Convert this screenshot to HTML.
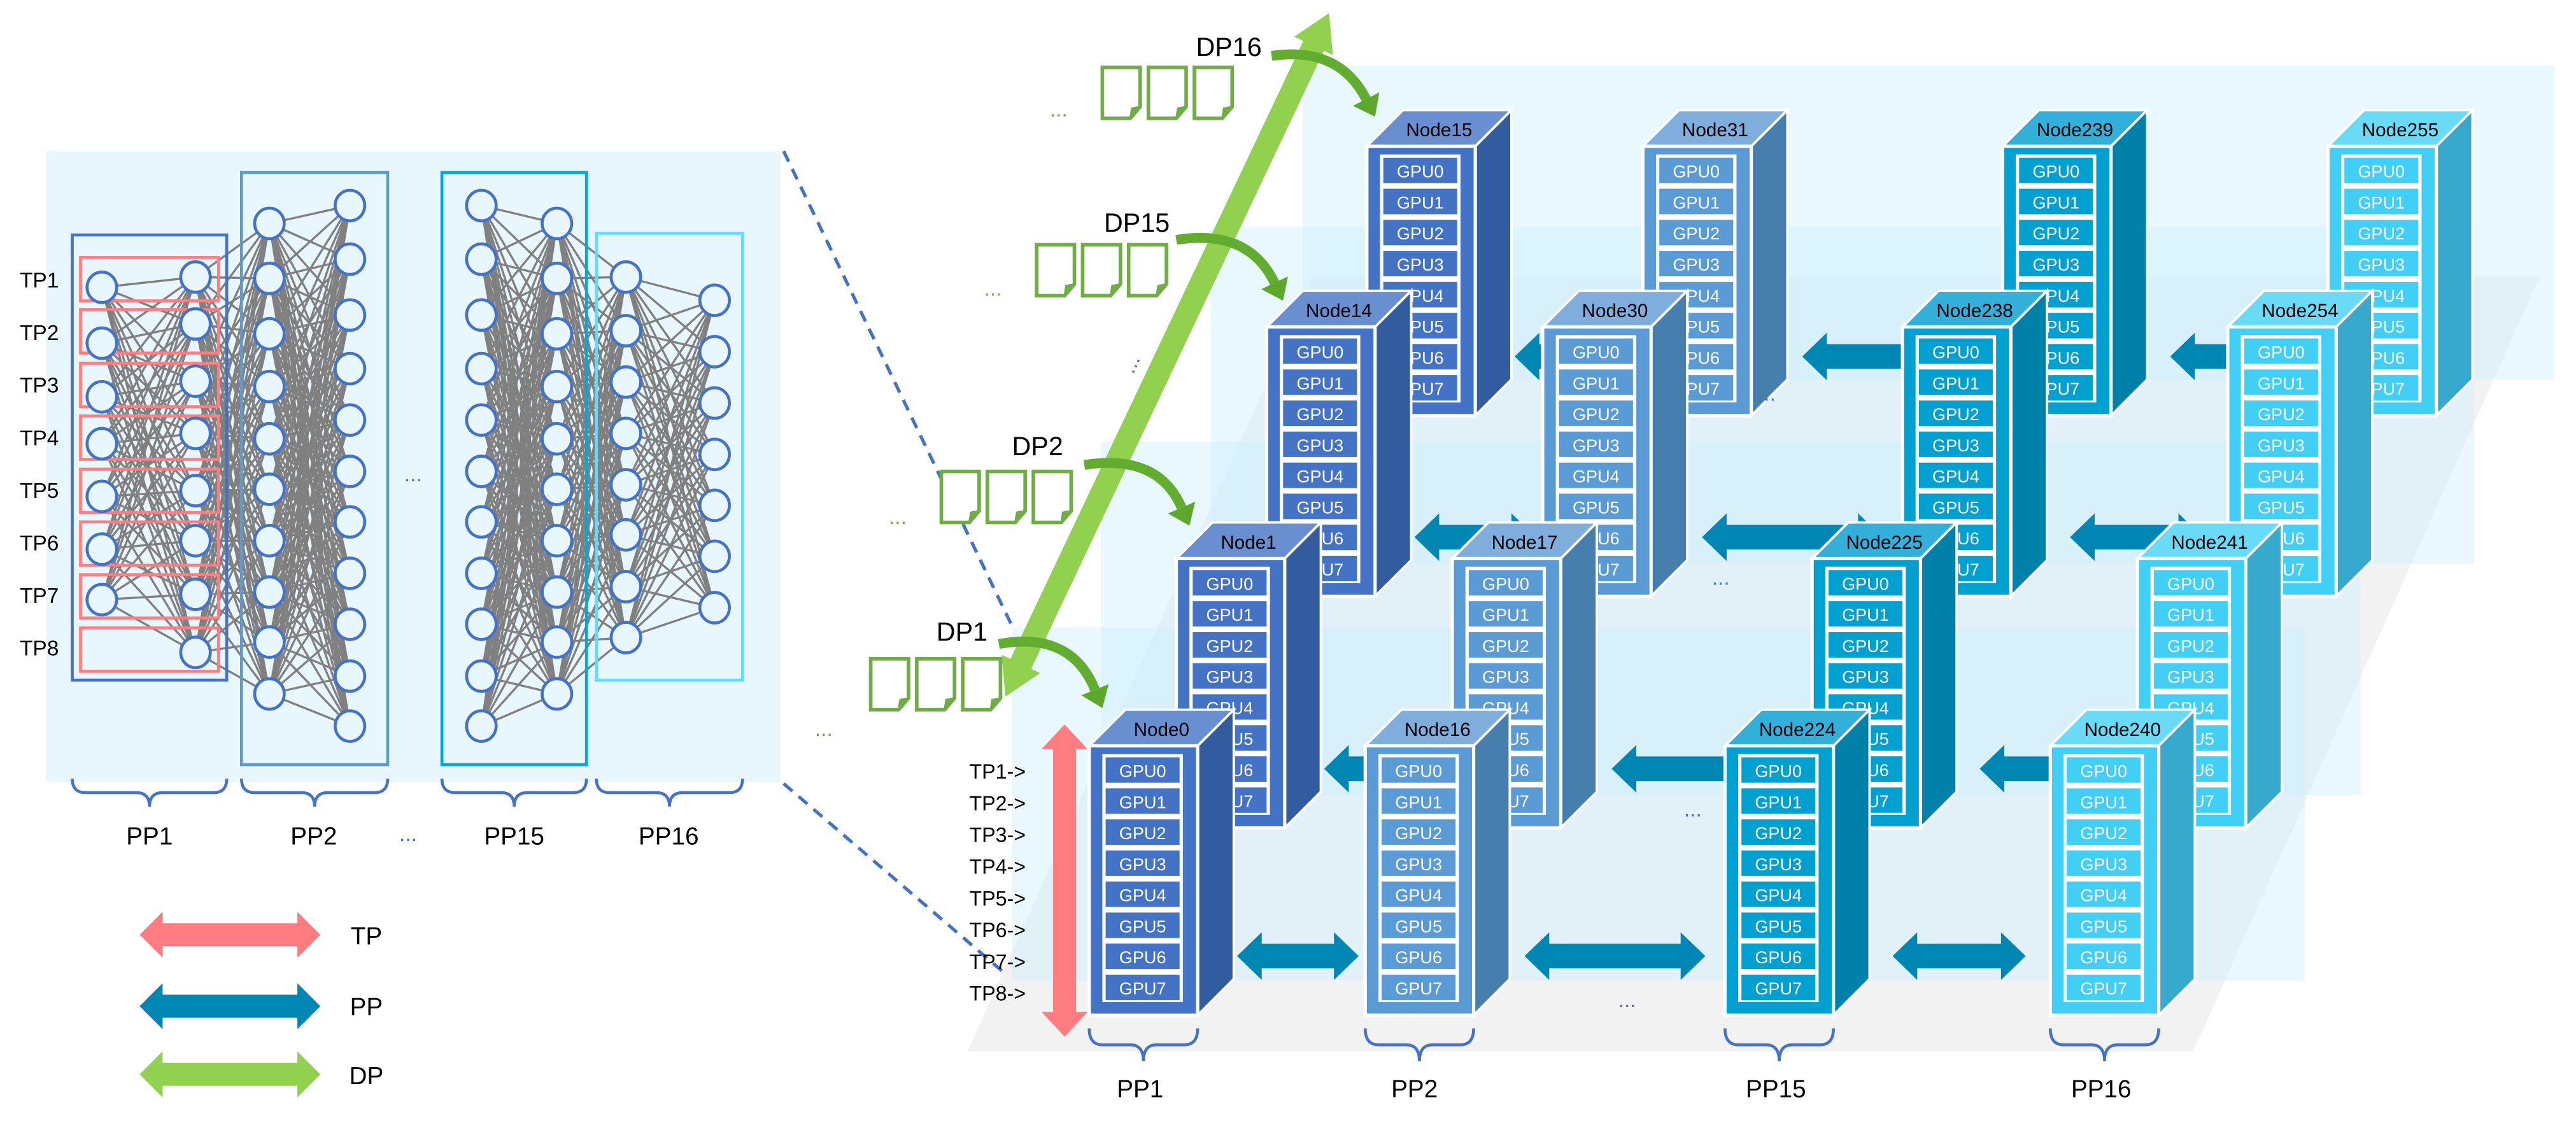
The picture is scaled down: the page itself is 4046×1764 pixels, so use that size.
<!DOCTYPE html>
<html><head><meta charset="utf-8"><style>
html,body{margin:0;padding:0;background:#fff;}
svg{display:block;}
text{font-family:"Liberation Sans",sans-serif;}
.g{font-size:10.5px;fill:#fff;text-anchor:middle;}
.nl{font-size:11.5px;fill:#000;text-anchor:middle;}
.tp{font-size:12.5px;fill:#000;}
.lb{font-size:15px;fill:#000;text-anchor:middle;}
.dp{font-size:16px;fill:#000;}
</style></head><body>
<svg id="s" width="4046" height="1764" viewBox="0 0 1568 683.6" xmlns="http://www.w3.org/2000/svg">
<defs>
<g id="cells">
<rect x="10" y="7" width="45" height="15.5" fill="currentColor"/>
<rect x="10" y="25.9" width="45" height="15.5" fill="currentColor"/>
<rect x="10" y="44.8" width="45" height="15.5" fill="currentColor"/>
<rect x="10" y="63.7" width="45" height="15.5" fill="currentColor"/>
<rect x="10" y="82.6" width="45" height="15.5" fill="currentColor"/>
<rect x="10" y="101.5" width="45" height="15.5" fill="currentColor"/>
<rect x="10" y="120.4" width="45" height="15.5" fill="currentColor"/>
<rect x="10" y="139.3" width="45" height="15.5" fill="currentColor"/>
</g>
<g id="n0"><polygon points="0,0 22,-22 88,-22 66,0" fill="#6A8FD0" stroke="#fff" stroke-width="1.5"/><polygon points="66,0 88,-22 88,142 66,164" fill="#335C9E" stroke="#fff" stroke-width="1.5"/><rect width="66" height="164" fill="#4472C4" stroke="#fff" stroke-width="2"/><rect x="8" y="5" width="49" height="151" fill="#fff"/><use href="#cells" style="color:#4472C4"/></g>
<g id="n1"><polygon points="0,0 22,-22 88,-22 66,0" fill="#7FAEDD" stroke="#fff" stroke-width="1.5"/><polygon points="66,0 88,-22 88,142 66,164" fill="#467EAE" stroke="#fff" stroke-width="1.5"/><rect width="66" height="164" fill="#5B9BD5" stroke="#fff" stroke-width="2"/><rect x="8" y="5" width="49" height="151" fill="#fff"/><use href="#cells" style="color:#5B9BD5"/></g>
<g id="n2"><polygon points="0,0 22,-22 88,-22 66,0" fill="#33B0DA" stroke="#fff" stroke-width="1.5"/><polygon points="66,0 88,-22 88,142 66,164" fill="#0081AA" stroke="#fff" stroke-width="1.5"/><rect width="66" height="164" fill="#00A0D0" stroke="#fff" stroke-width="2"/><rect x="8" y="5" width="49" height="151" fill="#fff"/><use href="#cells" style="color:#00A0D0"/></g>
<g id="n3"><polygon points="0,0 22,-22 88,-22 66,0" fill="#6ADBF7" stroke="#fff" stroke-width="1.5"/><polygon points="66,0 88,-22 88,142 66,164" fill="#36A9CC" stroke="#fff" stroke-width="1.5"/><rect width="66" height="164" fill="#42CFF5" stroke="#fff" stroke-width="2"/><rect x="8" y="5" width="49" height="151" fill="#fff"/><use href="#cells" style="color:#42CFF5"/></g>
<g id="doc"><path d="M0,0 H23 V24 L17,31 H0 Z" fill="#fff" stroke="#70AD47" stroke-width="2.2"/><path d="M17,31 L18,25 L23,24" fill="#70AD47" stroke="#70AD47" stroke-width="1.2"/></g>
</defs>

<!-- left panel -->
<rect x="28" y="92" width="447" height="384" fill="#E8F6FD"/>
<g id="nnlines" stroke="#808080" stroke-width="1.3"></g>
<rect x="44" y="143" width="94" height="271" fill="none" stroke="#4472C4" stroke-width="1.8"/>
<g fill="none" stroke="#FF7C80" stroke-width="1.8">
<rect x="49" y="156.7" width="84" height="26.4"/><rect x="49" y="188.5" width="84" height="26.4"/>
<rect x="49" y="221.1" width="84" height="26.4"/><rect x="49" y="253.2" width="84" height="26.4"/>
<rect x="49" y="285.6" width="84" height="26.4"/><rect x="49" y="317.7" width="84" height="26.4"/>
<rect x="49" y="349.8" width="84" height="26.4"/><rect x="49" y="382.2" width="84" height="26.4"/>
</g>
<rect x="147" y="105" width="89" height="360.5" fill="none" stroke="#5B9BD5" stroke-width="1.8"/>
<rect x="269" y="105" width="88" height="360.5" fill="none" stroke="#00A9DB" stroke-width="1.8"/>
<rect x="363" y="142" width="89" height="272" fill="none" stroke="#66D9FF" stroke-width="1.8"/>
<g id="nncirc" fill="#E8F6FD" stroke="#4472C4" stroke-width="1.8"></g>
<text x="246" y="293" fill="#4472C4" style="font-size:13px">...</text>
<g class="tp" style="font-size:13px">
<text x="12" y="175">TP1</text><text x="12" y="207">TP2</text><text x="12" y="239">TP3</text><text x="12" y="271">TP4</text>
<text x="12" y="303">TP5</text><text x="12" y="335">TP6</text><text x="12" y="367">TP7</text><text x="12" y="399">TP8</text>
</g>
<g id="lbraces" fill="none" stroke="#4472C4" stroke-width="1.8"></g>
<text class="lb" x="91" y="514">PP1</text>
<text class="lb" x="191" y="514">PP2</text>
<text x="243" y="512" fill="#4472C4" style="font-size:13px">...</text>
<text class="lb" x="313" y="514">PP15</text>
<text class="lb" x="407" y="514">PP16</text>

<!-- legend -->
<g id="legend"></g>
<text class="lb" x="223" y="575">TP</text>
<text class="lb" x="223" y="618">PP</text>
<text class="lb" x="223" y="660">DP</text>

<!-- dashed -->
<line x1="477" y1="92" x2="616" y2="381" stroke="#4472C4" stroke-width="2" stroke-dasharray="7,5"/>
<line x1="477" y1="477" x2="618" y2="598" stroke="#4472C4" stroke-width="2" stroke-dasharray="7,5"/>

<!-- right diagram: floor + planes -->
<polygon points="589,640 1335,640 1546,168 800,168" fill="#F2F2F2"/>
<rect x="793" y="40" width="762" height="191" fill="#CDEFFC" opacity="0.45"/>
<rect x="737" y="138" width="769" height="205" fill="#CDEFFC" opacity="0.45"/>
<rect x="670" y="269" width="767" height="215" fill="#CDEFFC" opacity="0.45"/>
<rect x="616" y="382" width="787" height="215" fill="#CDEFFC" opacity="0.45"/>

<g id="r3">
<g id="a3" fill="#0086B3"></g>
<g transform="translate(832,89)"><use href="#n0"/><text class="nl" x="44" y="-6">Node15</text><text class="g" x="32.5" y="19">GPU0</text><text class="g" x="32.5" y="37.9">GPU1</text><text class="g" x="32.5" y="56.8">GPU2</text><text class="g" x="32.5" y="75.7">GPU3</text><text class="g" x="32.5" y="94.6">GPU4</text><text class="g" x="32.5" y="113.5">GPU5</text><text class="g" x="32.5" y="132.4">GPU6</text><text class="g" x="32.5" y="151.3">GPU7</text></g>
<g transform="translate(1000,89)"><use href="#n1"/><text class="nl" x="44" y="-6">Node31</text><text class="g" x="32.5" y="19">GPU0</text><text class="g" x="32.5" y="37.9">GPU1</text><text class="g" x="32.5" y="56.8">GPU2</text><text class="g" x="32.5" y="75.7">GPU3</text><text class="g" x="32.5" y="94.6">GPU4</text><text class="g" x="32.5" y="113.5">GPU5</text><text class="g" x="32.5" y="132.4">GPU6</text><text class="g" x="32.5" y="151.3">GPU7</text></g>
<g transform="translate(1219,89)"><use href="#n2"/><text class="nl" x="44" y="-6">Node239</text><text class="g" x="32.5" y="19">GPU0</text><text class="g" x="32.5" y="37.9">GPU1</text><text class="g" x="32.5" y="56.8">GPU2</text><text class="g" x="32.5" y="75.7">GPU3</text><text class="g" x="32.5" y="94.6">GPU4</text><text class="g" x="32.5" y="113.5">GPU5</text><text class="g" x="32.5" y="132.4">GPU6</text><text class="g" x="32.5" y="151.3">GPU7</text></g>
<g transform="translate(1417,89)"><use href="#n3"/><text class="nl" x="44" y="-6">Node255</text><text class="g" x="32.5" y="19">GPU0</text><text class="g" x="32.5" y="37.9">GPU1</text><text class="g" x="32.5" y="56.8">GPU2</text><text class="g" x="32.5" y="75.7">GPU3</text><text class="g" x="32.5" y="94.6">GPU4</text><text class="g" x="32.5" y="113.5">GPU5</text><text class="g" x="32.5" y="132.4">GPU6</text><text class="g" x="32.5" y="151.3">GPU7</text></g>
<text x="1070" y="244" fill="#4472C4" style="font-size:13px">...</text>
</g>

<g id="r2">
<g id="a2" fill="#0086B3"></g>
<g transform="translate(771,199)"><use href="#n0"/><text class="nl" x="44" y="-6">Node14</text><text class="g" x="32.5" y="19">GPU0</text><text class="g" x="32.5" y="37.9">GPU1</text><text class="g" x="32.5" y="56.8">GPU2</text><text class="g" x="32.5" y="75.7">GPU3</text><text class="g" x="32.5" y="94.6">GPU4</text><text class="g" x="32.5" y="113.5">GPU5</text><text class="g" x="32.5" y="132.4">GPU6</text><text class="g" x="32.5" y="151.3">GPU7</text></g>
<g transform="translate(939,199)"><use href="#n1"/><text class="nl" x="44" y="-6">Node30</text><text class="g" x="32.5" y="19">GPU0</text><text class="g" x="32.5" y="37.9">GPU1</text><text class="g" x="32.5" y="56.8">GPU2</text><text class="g" x="32.5" y="75.7">GPU3</text><text class="g" x="32.5" y="94.6">GPU4</text><text class="g" x="32.5" y="113.5">GPU5</text><text class="g" x="32.5" y="132.4">GPU6</text><text class="g" x="32.5" y="151.3">GPU7</text></g>
<g transform="translate(1158,199)"><use href="#n2"/><text class="nl" x="44" y="-6">Node238</text><text class="g" x="32.5" y="19">GPU0</text><text class="g" x="32.5" y="37.9">GPU1</text><text class="g" x="32.5" y="56.8">GPU2</text><text class="g" x="32.5" y="75.7">GPU3</text><text class="g" x="32.5" y="94.6">GPU4</text><text class="g" x="32.5" y="113.5">GPU5</text><text class="g" x="32.5" y="132.4">GPU6</text><text class="g" x="32.5" y="151.3">GPU7</text></g>
<g transform="translate(1356,199)"><use href="#n3"/><text class="nl" x="44" y="-6">Node254</text><text class="g" x="32.5" y="19">GPU0</text><text class="g" x="32.5" y="37.9">GPU1</text><text class="g" x="32.5" y="56.8">GPU2</text><text class="g" x="32.5" y="75.7">GPU3</text><text class="g" x="32.5" y="94.6">GPU4</text><text class="g" x="32.5" y="113.5">GPU5</text><text class="g" x="32.5" y="132.4">GPU6</text><text class="g" x="32.5" y="151.3">GPU7</text></g>
<text x="1042" y="356" fill="#4472C4" style="font-size:13px">...</text>
</g>

<g id="r1">
<g id="a1" fill="#0086B3"></g>
<g transform="translate(716,340)"><use href="#n0"/><text class="nl" x="44" y="-6">Node1</text><text class="g" x="32.5" y="19">GPU0</text><text class="g" x="32.5" y="37.9">GPU1</text><text class="g" x="32.5" y="56.8">GPU2</text><text class="g" x="32.5" y="75.7">GPU3</text><text class="g" x="32.5" y="94.6">GPU4</text><text class="g" x="32.5" y="113.5">GPU5</text><text class="g" x="32.5" y="132.4">GPU6</text><text class="g" x="32.5" y="151.3">GPU7</text></g>
<g transform="translate(884,340)"><use href="#n1"/><text class="nl" x="44" y="-6">Node17</text><text class="g" x="32.5" y="19">GPU0</text><text class="g" x="32.5" y="37.9">GPU1</text><text class="g" x="32.5" y="56.8">GPU2</text><text class="g" x="32.5" y="75.7">GPU3</text><text class="g" x="32.5" y="94.6">GPU4</text><text class="g" x="32.5" y="113.5">GPU5</text><text class="g" x="32.5" y="132.4">GPU6</text><text class="g" x="32.5" y="151.3">GPU7</text></g>
<g transform="translate(1103,340)"><use href="#n2"/><text class="nl" x="44" y="-6">Node225</text><text class="g" x="32.5" y="19">GPU0</text><text class="g" x="32.5" y="37.9">GPU1</text><text class="g" x="32.5" y="56.8">GPU2</text><text class="g" x="32.5" y="75.7">GPU3</text><text class="g" x="32.5" y="94.6">GPU4</text><text class="g" x="32.5" y="113.5">GPU5</text><text class="g" x="32.5" y="132.4">GPU6</text><text class="g" x="32.5" y="151.3">GPU7</text></g>
<g transform="translate(1301,340)"><use href="#n3"/><text class="nl" x="44" y="-6">Node241</text><text class="g" x="32.5" y="19">GPU0</text><text class="g" x="32.5" y="37.9">GPU1</text><text class="g" x="32.5" y="56.8">GPU2</text><text class="g" x="32.5" y="75.7">GPU3</text><text class="g" x="32.5" y="94.6">GPU4</text><text class="g" x="32.5" y="113.5">GPU5</text><text class="g" x="32.5" y="132.4">GPU6</text><text class="g" x="32.5" y="151.3">GPU7</text></g>
<text x="1025" y="497" fill="#4472C4" style="font-size:13px">...</text>
</g>

<g id="r0">
<g id="a0" fill="#0086B3"></g>
<g transform="translate(663,454)"><use href="#n0"/><text class="nl" x="44" y="-6">Node0</text><text class="g" x="32.5" y="19">GPU0</text><text class="g" x="32.5" y="37.9">GPU1</text><text class="g" x="32.5" y="56.8">GPU2</text><text class="g" x="32.5" y="75.7">GPU3</text><text class="g" x="32.5" y="94.6">GPU4</text><text class="g" x="32.5" y="113.5">GPU5</text><text class="g" x="32.5" y="132.4">GPU6</text><text class="g" x="32.5" y="151.3">GPU7</text></g>
<g transform="translate(831,454)"><use href="#n1"/><text class="nl" x="44" y="-6">Node16</text><text class="g" x="32.5" y="19">GPU0</text><text class="g" x="32.5" y="37.9">GPU1</text><text class="g" x="32.5" y="56.8">GPU2</text><text class="g" x="32.5" y="75.7">GPU3</text><text class="g" x="32.5" y="94.6">GPU4</text><text class="g" x="32.5" y="113.5">GPU5</text><text class="g" x="32.5" y="132.4">GPU6</text><text class="g" x="32.5" y="151.3">GPU7</text></g>
<g transform="translate(1050,454)"><use href="#n2"/><text class="nl" x="44" y="-6">Node224</text><text class="g" x="32.5" y="19">GPU0</text><text class="g" x="32.5" y="37.9">GPU1</text><text class="g" x="32.5" y="56.8">GPU2</text><text class="g" x="32.5" y="75.7">GPU3</text><text class="g" x="32.5" y="94.6">GPU4</text><text class="g" x="32.5" y="113.5">GPU5</text><text class="g" x="32.5" y="132.4">GPU6</text><text class="g" x="32.5" y="151.3">GPU7</text></g>
<g transform="translate(1248,454)"><use href="#n3"/><text class="nl" x="44" y="-6">Node240</text><text class="g" x="32.5" y="19">GPU0</text><text class="g" x="32.5" y="37.9">GPU1</text><text class="g" x="32.5" y="56.8">GPU2</text><text class="g" x="32.5" y="75.7">GPU3</text><text class="g" x="32.5" y="94.6">GPU4</text><text class="g" x="32.5" y="113.5">GPU5</text><text class="g" x="32.5" y="132.4">GPU6</text><text class="g" x="32.5" y="151.3">GPU7</text></g>
<text x="985" y="613" fill="#4472C4" style="font-size:13px">...</text>
</g>

<!-- TP arrow and labels -->
<polygon points="648,441 662,456 655,456 655,616 662,616 648,631 634,616 641,616 641,456 634,456" fill="#FF7C80"/>
<g class="tp">
<text x="590" y="474">TP1-&gt;</text><text x="590" y="493.3">TP2-&gt;</text><text x="590" y="512.6">TP3-&gt;</text><text x="590" y="531.9">TP4-&gt;</text>
<text x="590" y="551.2">TP5-&gt;</text><text x="590" y="570.5">TP6-&gt;</text><text x="590" y="589.8">TP7-&gt;</text><text x="590" y="609.1">TP8-&gt;</text>
</g>
<g id="rbraces" fill="none" stroke="#4472C4" stroke-width="1.8"></g>
<text class="lb" x="694" y="668">PP1</text>
<text class="lb" x="861" y="668">PP2</text>
<text class="lb" x="1081" y="668">PP15</text>
<text class="lb" x="1279" y="668">PP16</text>

<!-- DP -->
<g id="dpa"></g>
<use href="#doc" x="671" y="41"/><use href="#doc" x="699" y="41"/><use href="#doc" x="727" y="41"/>
<use href="#doc" x="631" y="149"/><use href="#doc" x="659" y="149"/><use href="#doc" x="687" y="149"/>
<use href="#doc" x="573" y="287"/><use href="#doc" x="601" y="287"/><use href="#doc" x="629" y="287"/>
<use href="#doc" x="530" y="401"/><use href="#doc" x="558" y="401"/><use href="#doc" x="586" y="401"/>
<g fill="#70AD47" style="font-size:13px">
<text x="639" y="71">...</text><text x="599" y="180">...</text><text x="541" y="319">...</text><text x="496" y="448">...</text>
</g>
<text x="682" y="228" fill="#4472C4" style="font-size:13px" transform="rotate(-65 686 222)">...</text>
<text class="dp" x="728" y="34">DP16</text>
<text class="dp" x="672" y="141">DP15</text>
<text class="dp" x="616" y="277">DP2</text>
<text class="dp" x="570" y="390">DP1</text>
<g id="dpc"></g>
</svg>
<script>
var NS="http://www.w3.org/2000/svg";
function el(p,t,a){var e=document.createElementNS(NS,t);for(var k in a)e.setAttribute(k,a[k]);p.appendChild(e);return e;}
function $(i){return document.getElementById(i);}
var fy=function(z){return z/3.6765+77.52;};
var cols=[[62,[358,483,603,708,826,944,1057]],[119,[335,440,568,685,813,925,1045,1175]],
[164,[215,338,462,580,697,810,925,1040,1152,1268]],[213,[175,295,420,540,655,770,883,998,1112,1228,1340]],
[293,[175,295,420,540,655,770,883,998,1112,1228,1340]],[339,[215,338,462,580,697,810,925,1040,1152,1268]],
[381,[335,455,570,685,800,912,1028,1142]],[435,[387,502,617,732,846,960,1075]]];
var pairs=[[0,1],[1,2],[2,3],[4,5],[5,6],[6,7]];
var L=$("nnlines"),C=$("nncirc");
pairs.forEach(function(p){var a=cols[p[0]],b=cols[p[1]];a[1].forEach(function(ya){b[1].forEach(function(yb){
el(L,"line",{x1:a[0],y1:fy(ya),x2:b[0],y2:fy(yb)});});});});
cols.forEach(function(c){c[1].forEach(function(y){el(C,"ellipse",{cx:c[0],cy:fy(y),rx:9,ry:9.3});});});
function brace(g,x1,x2,y0,h){var m=(x1+x2)/2;var r=Math.min(8,(x2-x1)/6);
el(g,"path",{d:"M"+x1+","+y0+" q0,"+(h/2)+" "+r+","+(h/2)+" H"+(m-r)+" q"+r+",0 "+r+","+(h/2)+" q0,-"+(h/2)+" "+r+",-"+(h/2)+" H"+(x2-r)+" q"+r+",0 "+r+",-"+(h/2)});}
[[44,138],[147,236],[269,357],[363,452]].forEach(function(b){brace($("lbraces"),b[0],b[1],474,17);});
[663,831,1050,1248].forEach(function(x){brace($("rbraces"),x,x+66,626,20);});
function arr(g,x1,y1,x2,y2,sw,hw,hl,dbl,fill){var dx=x2-x1,dy=y2-y1,l=Math.hypot(dx,dy),ux=dx/l,uy=dy/l,nx=-uy,ny=ux;
function P(t,w){return (x1+ux*t+nx*w).toFixed(1)+","+(y1+uy*t+ny*w).toFixed(1);}
var pts=[];
if(dbl){pts.push(P(0,0),P(hl,hw),P(hl,sw));}else{pts.push(P(0,sw));}
pts.push(P(l-hl,sw),P(l-hl,hw),P(l,0),P(l-hl,-hw),P(l-hl,-sw));
if(dbl){pts.push(P(hl,-sw),P(hl,-hw));}else{pts.push(P(0,-sw));}
var e=el(g,"polygon",{points:pts.join(" ")});if(fill)e.setAttribute("fill",fill);}
var rows=[[0,0],[53,-114],[108,-255],[169,-365]];
var segs=[[753,827],[928,1038],[1152,1233]];
rows.forEach(function(r,i){var g=$("a"+i);segs.forEach(function(s){arr(g,s[0]+r[0],582+r[1],s[1]+r[0],582+r[1],7.5,14.5,15,true);});});
var lg=$("legend");
arr(lg,85,569,195,569,7,14,14,true,"#FF7C80");
arr(lg,85,612.5,195,612.5,7,14,14,true,"#0086B3");
arr(lg,85,654,195,654,7,14,14,true,"#92D050");
arr($("dpa"),612,424,809,8,7,13,22,true,"#92D050");
var cur=[[774,34,815,28,837,71],[716,146,760,139,781,183],[660,283,705,276,724,320],[608,392,652,384,671,431]];
var dc=$("dpc");
cur.forEach(function(c){var dx=c[4]-c[2],dy=c[5]-c[3],l=Math.hypot(dx,dy),ux=dx/l,uy=dy/l;
var ex=c[4]-ux*12,ey=c[5]-uy*12;
el(dc,"path",{d:"M"+c[0]+","+c[1]+" Q"+c[2]+","+c[3]+" "+ex+","+ey,fill:"none",stroke:"#62AD2F","stroke-width":6});
var nx=-uy,ny=ux;
el(dc,"polygon",{points:c[4]+","+c[5]+" "+(ex+nx*9)+","+(ey+ny*9)+" "+(ex-nx*9)+","+(ey-ny*9),fill:"#5DA82C"});});
</script>
</body></html>
